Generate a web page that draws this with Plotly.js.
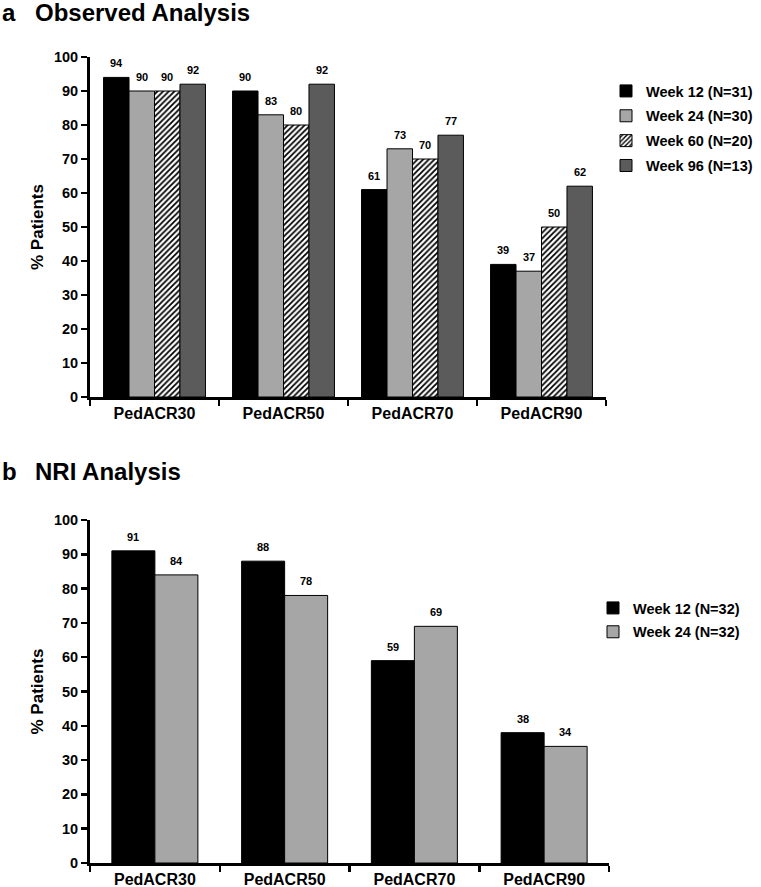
<!DOCTYPE html>
<html>
<head>
<meta charset="utf-8">
<script src="https://cdn.plot.ly/plotly-3.0.1.min.js"></script>
<style>html,body{margin:0;padding:0;background:#fff;}#chart{width:761px;height:887px;}</style>
</head>
<body>
<div id="chart"></div>
<script>
// ---------- data ----------
const categories = ["PedACR30", "PedACR50", "PedACR70", "PedACR90"];

// Panel a: Observed Analysis
const obsNames = ["Week 12 (N=31)", "Week 24 (N=30)", "Week 60 (N=20)", "Week 96 (N=13)"];
const obsWeek12 = [94, 90, 61, 39];
const obsWeek24 = [90, 83, 73, 37];
const obsWeek60 = [90, 80, 70, 50];
const obsWeek96 = [92, 92, 77, 62];

// Panel b: NRI Analysis
const nriNames = ["Week 12 (N=32)", "Week 24 (N=32)"];
const nriWeek12 = [91, 88, 59, 38];
const nriWeek24 = [84, 78, 69, 34];

const yTicks = [0, 10, 20, 30, 40, 50, 60, 70, 80, 90, 100];

// ---------- styling ----------
const W = 761, H = 887;
const FONT = "Liberation Sans, Arial, Helvetica, sans-serif";
const styles = [
  {color: "#000000"},
  {color: "#a6a6a6"},
  {color: "#ffffff", pattern: {shape: "/", fgcolor: "#000000", bgcolor: "#ffffff", size: 4, solidity: 0.45}},
  {color: "#5b5b5b"}
];

const px = (x) => x / W;
const py = (y) => 1 - y / H;

const panels = [
  {series: [obsWeek12, obsWeek24, obsWeek60, obsWeek96], names: obsNames, groupW: 0.79,
   xa: "x", ya: "y", legend: "legend", xdom: [90, 606], ydom: [397, 57]},
  {series: [nriWeek12, nriWeek24], names: nriNames, groupW: 0.663,
   xa: "x2", ya: "y2", legend: "legend2", xdom: [90, 609], ydom: [863, 520]}
];

const traces = [];
const annotations = [];
panels.forEach((p, pi) => {
  const n = p.series.length;
  const w = p.groupW / n;
  p.series.forEach((vals, i) => {
    const st = styles[i];
    const off = -p.groupW / 2 + i * w;
    const marker = {color: st.color, line: {color: "#000000", width: 1}};
    if (st.pattern) marker.pattern = st.pattern;
    traces.push({
      type: "bar", x: categories, y: vals, name: p.names[i],
      xaxis: p.xa, yaxis: p.ya, legend: p.legend, legendgroup: "g" + pi + "_" + i,
      width: w, offset: off, marker: marker, hoverinfo: "skip"
    });
    vals.forEach((v, ci) => {
      annotations.push({
        xref: p.xa, yref: p.ya, x: ci + off + w / 2, y: v,
        text: String(v), showarrow: false, xanchor: "center", yanchor: "bottom", yshift: 6,
        font: {family: FONT, size: 11, color: "#000", weight: "bold"}
      });
    });
  });
});

// panel titles
[["a", 0, 13], ["Observed Analysis", 33, 13], ["b", 0, 471], ["NRI Analysis", 33, 471]].forEach(t => {
  annotations.push({xref: "paper", yref: "paper", x: px(t[1]), y: py(t[2]), text: t[0],
    showarrow: false, xanchor: "left", yanchor: "middle",
    font: {family: FONT, size: 24, color: "#000", weight: "bold"}});
});

function xAxis(p) {
  return {
    domain: [px(p.xdom[0]), px(p.xdom[1])], anchor: p.ya, type: "category",
    range: [-0.5, 3.5], tickson: "boundaries", ticks: "outside", ticklen: 6, tickwidth: 2.5,
    tickcolor: "#000", showline: true, linewidth: 3, linecolor: "#000",
    showgrid: false, zeroline: false, fixedrange: true,
    tickfont: {family: FONT, size: 16, color: "#000", weight: "bold"}
  };
}
function yAxis(p) {
  return {
    domain: [py(p.ydom[0]), py(p.ydom[1])], anchor: p.xa, range: [0, 100],
    tickmode: "array", tickvals: yTicks, ticktext: yTicks.map(String),
    ticks: "outside", ticklen: 6, tickwidth: 2.5, tickcolor: "#000",
    showline: true, linewidth: 3, linecolor: "#000", showgrid: false, zeroline: false,
    fixedrange: true,
    tickfont: {family: FONT, size: 14.5, color: "#000", weight: "bold"},
    title: {text: "% Patients", standoff: 6, font: {family: FONT, size: 17, color: "#000", weight: "bold"}}
  };
}

const legendFont = {family: FONT, size: 14.5, color: "#000", weight: "bold"};
const layout = {
  width: W, height: H, margin: {l: 0, r: 0, t: 0, b: 0},
  paper_bgcolor: "#fff", plot_bgcolor: "#fff",
  barmode: "overlay", showlegend: true,
  font: {family: FONT, color: "#000"},
  xaxis: xAxis(panels[0]), yaxis: yAxis(panels[0]),
  xaxis2: xAxis(panels[1]), yaxis2: yAxis(panels[1]),
  legend: {x: px(606), y: py(75), xanchor: "left", yanchor: "top", font: legendFont,
           traceorder: "grouped", tracegroupgap: 3, bgcolor: "rgba(0,0,0,0)", borderwidth: 0},
  legend2: {x: px(593), y: py(592), xanchor: "left", yanchor: "top", font: legendFont,
            traceorder: "grouped", tracegroupgap: 2, bgcolor: "rgba(0,0,0,0)", borderwidth: 0},
  annotations: annotations
};

Plotly.newPlot("chart", traces, layout, {displayModeBar: false, staticPlot: true});
</script>
</body>
</html>
